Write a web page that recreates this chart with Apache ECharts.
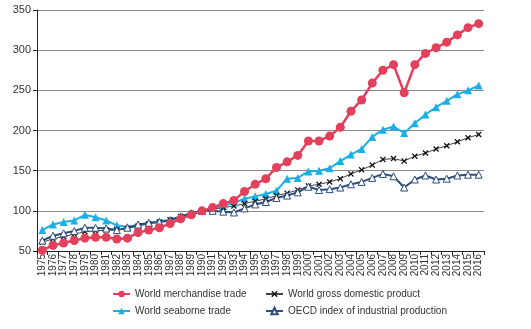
<!DOCTYPE html>
<html>
<head>
<meta charset="utf-8">
<script src="https://cdn.jsdelivr.net/npm/echarts@6/dist/echarts.min.js"></script>
<style>
  html, body { margin: 0; padding: 0; background: #fff; }
  #chart { width: 531px; height: 329px; }
</style>
</head>
<body>
<div id="chart"></div>
<script>
// Indices, 1990 = 100
const years = [];
for (let y = 1975; y <= 2016; y++) years.push(String(y));

const merchandiseTrade = [51, 57, 60, 63, 66, 67, 67, 65, 66, 73, 76, 79, 84, 90, 95, 100,
  104, 109, 113, 124, 133, 140, 154, 161, 169, 187, 187, 193, 204, 224, 238, 259, 275, 282,
  247, 282, 296, 303, 310, 319, 328, 333];
const seaborneTrade = [76, 83, 86, 88, 95, 92, 88, 82, 80, 82, 85, 87, 89, 93, 97, 100,
  103, 106, 110, 115, 118, 121, 125, 140, 141, 149, 150, 153, 162, 170, 177, 192, 201, 205,
  197, 209, 220, 229, 237, 245, 250, 256];
const worldGdp = [61, 65, 68, 71, 74, 75, 76, 76, 78, 81, 84, 86, 89, 93, 97, 100,
  102, 104, 106, 109, 112, 115, 119, 122, 126, 131, 133, 136, 140, 146, 151, 157, 164, 165,
  162, 168, 172, 177, 181, 186, 191, 195];
const oecdIndustrial = [63, 69, 72, 75, 79, 79, 78, 76, 79, 83, 85, 86, 88, 93, 97, 100,
  100, 99, 98, 103, 108, 111, 116, 119, 123, 130, 126, 127, 129, 133, 136, 141, 146, 143,
  129, 139, 144, 139, 140, 144, 145, 145];

const yTicks = { min: 50, max: 350, step: 50 };

const FONT = "'Liberation Sans Narrow', 'Liberation Sans', Arial, sans-serif";
const RED = '#e2405b';
const BLUE = '#1eaee6';
const NAVY = '#2d4e7e';
const GREY = '#444444';
const CROSS = 'path://M0,1.5L1.5,0L5,3.5L8.5,0L10,1.5L6.5,5L10,8.5L8.5,10L5,6.5L1.5,10L0,8.5L3.5,5Z';

const chart = echarts.init(document.getElementById('chart'), null, { renderer: 'canvas' });

const legendText = { fontFamily: FONT, fontSize: 10, color: '#333' };

chart.setOption({
  animation: false,
  backgroundColor: '#ffffff',
  grid: { left: 37, right: 47, top: 10, bottom: 78 },
  legend: [
    {
      orient: 'vertical', left: 112, top: 289, itemGap: 7, padding: 0,
      itemWidth: 17, itemHeight: 8, textStyle: legendText,
      data: ['World merchandise trade', 'World seaborne trade']
    },
    {
      orient: 'vertical', left: 265, top: 289, itemGap: 7, padding: 0,
      itemWidth: 17, itemHeight: 8, textStyle: legendText,
      data: ['World gross domestic product', 'OECD index of industrial production']
    }
  ],
  xAxis: {
    type: 'category',
    data: years,
    boundaryGap: true,
    axisLine: { lineStyle: { color: '#222', width: 1 } },
    axisTick: { show: true, interval: 0, length: 4, lineStyle: { color: '#222' } },
    axisLabel: {
      interval: 0, rotate: 90, margin: 3,
      fontFamily: FONT, fontSize: 10, color: '#333'
    },
    splitLine: { show: false }
  },
  yAxis: {
    type: 'value',
    min: yTicks.min, max: yTicks.max, interval: yTicks.step,
    axisLine: { show: true, lineStyle: { color: '#222', width: 1 } },
    axisTick: { show: true, length: 4, lineStyle: { color: '#222' } },
    axisLabel: { margin: 6, fontFamily: FONT, fontSize: 11, color: '#333' },
    splitLine: { show: true, lineStyle: { color: '#8a8a8a', width: 1 } }
  },
  series: [
    {
      name: 'World seaborne trade', type: 'line', data: seaborneTrade,
      symbol: 'triangle', symbolSize: 8, showAllSymbol: true,
      lineStyle: { color: BLUE, width: 2 },
      itemStyle: { color: BLUE }
    },
    {
      name: 'World gross domestic product', type: 'line', data: worldGdp,
      symbol: CROSS, symbolSize: 6, showAllSymbol: true,
      lineStyle: { color: GREY, width: 1 },
      itemStyle: { color: '#111' }
    },
    {
      name: 'OECD index of industrial production', type: 'line', data: oecdIndustrial,
      symbol: 'triangle', symbolSize: 7, showAllSymbol: true,
      lineStyle: { color: NAVY, width: 2 },
      itemStyle: { color: '#ffffff', borderColor: NAVY, borderWidth: 1 }
    },
    {
      name: 'World merchandise trade', type: 'line', data: merchandiseTrade,
      symbol: 'circle', symbolSize: 9, showAllSymbol: true,
      lineStyle: { color: RED, width: 2.5 },
      itemStyle: { color: RED }
    }
  ]
});
</script>
</body>
</html>
